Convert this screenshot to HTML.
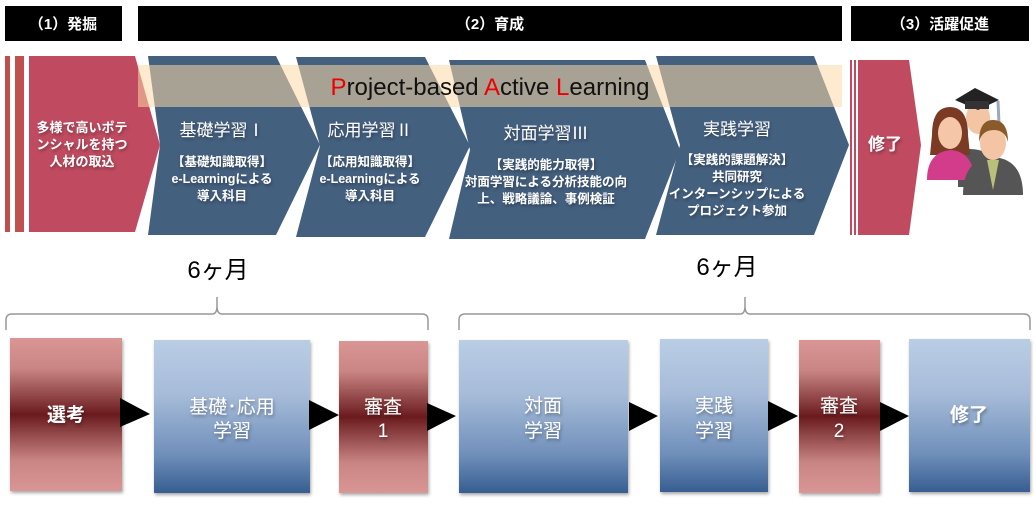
<!DOCTYPE html>
<html><head><meta charset="utf-8"><style>
html,body{margin:0;padding:0;background:#fff;}
svg{display:block;}
text{font-family:"Liberation Sans","Noto Sans CJK JP",sans-serif;}
</style></head><body>
<svg width="1035" height="510" viewBox="0 0 1035 510" xmlns="http://www.w3.org/2000/svg">
<defs>
<linearGradient id="pk" x1="0" y1="0" x2="0" y2="1">
<stop offset="0" stop-color="#d99694"/><stop offset="0.2" stop-color="#c98583"/><stop offset="0.5" stop-color="#6a1b1e"/><stop offset="0.8" stop-color="#c98583"/><stop offset="1" stop-color="#d99694"/></linearGradient>
<linearGradient id="bl" x1="0" y1="0" x2="0" y2="1">
<stop offset="0" stop-color="#b9cde5"/><stop offset="0.35" stop-color="#a7bcd9"/><stop offset="0.75" stop-color="#6f8fba"/><stop offset="1" stop-color="#375d91"/></linearGradient>
<filter id="sh" x="-10%" y="-10%" width="130%" height="130%"><feDropShadow dx="1" dy="2" stdDeviation="1.5" flood-opacity="0.35"/></filter>
</defs>
<!-- headers -->
<rect x="5" y="6" width="117" height="35" fill="#000"/>
<rect x="138" y="6" width="704" height="35" fill="#000"/>
<rect x="851" y="6" width="178" height="35" fill="#000"/>
<g fill="#fff" font-size="15" font-weight="bold" text-anchor="middle">
<text x="63" y="29">（1）発掘</text>
<text x="490" y="29">（2）育成</text>
<text x="940" y="29">（3）活躍促進</text>
</g>
<!-- left pink -->
<rect x="5" y="56" width="5" height="176" fill="#c0504d"/>
<rect x="15" y="56" width="9" height="176" fill="#c0504d"/>
<polygon points="29,56 135,56 160,145 135,232 29,232" fill="#c04b60"/>
<!-- blue chevrons -->
<polygon points="148,56 276,56 320,145 276,235 148,235 160,145" fill="#44607f"/>
<polygon points="296,57 425,57 470,146 425,237 296,237 320,146" fill="#44607f"/>
<polygon points="449,60 645,60 680,150 645,239 449,239 470,150" fill="#44607f"/>
<polygon points="656,56 814,56 849,145 814,235 656,235 680,145" fill="#44607f"/>
<!-- band -->
<rect x="138" y="65" width="704" height="42" fill="#fcd9a8" opacity="0.55"/>
<text x="490" y="95" font-size="24" text-anchor="middle" fill="#111"><tspan fill="#e00">P</tspan>roject-based <tspan fill="#e00">A</tspan>ctive <tspan fill="#e00">L</tspan>earning</text>
<!-- right pink -->
<rect x="850" y="60" width="2" height="175" fill="#c04b60"/>
<rect x="854" y="60" width="2" height="175" fill="#c04b60"/>
<polygon points="858,60 909,60 921,145 909,235 858,235" fill="#c04b60"/>
<g fill="#fff" font-weight="bold" text-anchor="middle" filter="url(#sh)">
<text x="82" y="132" font-size="13">多様で高いポテ</text>
<text x="82" y="149" font-size="13">ンシャルを持つ</text>
<text x="82" y="166" font-size="13">人材の取込</text>
<text x="885" y="150" font-size="17">修了</text>
</g>
<g fill="#fff" text-anchor="middle" filter="url(#sh)">
<text x="222" y="136" font-size="17">基礎学習Ⅰ</text>
<text x="222" y="166" font-size="12.5" font-weight="bold">【基礎知識取得】</text>
<text x="222" y="183" font-size="12.5" font-weight="bold">e-Learningによる</text>
<text x="222" y="200" font-size="12.5" font-weight="bold">導入科目</text>
<text x="370" y="136" font-size="17">応用学習Ⅱ</text>
<text x="370" y="166" font-size="12.5" font-weight="bold">【応用知識取得】</text>
<text x="370" y="183" font-size="12.5" font-weight="bold">e-Learningによる</text>
<text x="370" y="200" font-size="12.5" font-weight="bold">導入科目</text>
<text x="546" y="139" font-size="17">対面学習Ⅲ</text>
<text x="546" y="169" font-size="12.5" font-weight="bold">【実践的能力取得】</text>
<text x="546" y="186" font-size="12.5" font-weight="bold">対面学習による分析技能の向</text>
<text x="546" y="203" font-size="12.5" font-weight="bold">上、戦略議論、事例検証</text>
<text x="737" y="135" font-size="17">実践学習</text>
<text x="737" y="164" font-size="12.5" font-weight="bold">【実践的課題解決】</text>
<text x="737" y="181" font-size="12.5" font-weight="bold">共同研究</text>
<text x="737" y="198" font-size="12.5" font-weight="bold">インターンシップによる</text>
<text x="737" y="215" font-size="12.5" font-weight="bold">プロジェクト参加</text>
</g>
<!-- people icon -->
<g>
<path d="M958,150 q30,-5 40,15 l0,22 l-40,0 z" fill="#555"/>
<ellipse cx="978" cy="118" rx="12" ry="16" fill="#f3c5a4"/>
<polygon points="955,100 975,88 999,100 978,110" fill="#222"/>
<rect x="965" y="101" width="24" height="8" fill="#333"/>
<line x1="998" y1="101" x2="999" y2="124" stroke="#9ab" stroke-width="3"/>
<path d="M932,135 q0,-28 18,-28 q18,0 18,28 l2,20 l-40,0 z" fill="#7a3a24"/>
<ellipse cx="950" cy="133" rx="12" ry="16" fill="#f5c7a8"/>
<path d="M927,180 q0,-28 24,-30 q22,2 24,30 z" fill="#d23c8a"/>
<path d="M963,195 q0,-36 30,-38 q30,2 30,38 z" fill="#555"/>
<polygon points="987,160 999,160 993,190" fill="#b8c07a"/>
<ellipse cx="993" cy="143" rx="13" ry="17" fill="#f3c5a4"/>
<path d="M979,142 q0,-22 14,-22 q15,0 15,22 q-3,-12 -14,-12 q-12,0 -15,12 z" fill="#8a5a2a"/>
</g>
<!-- 6ヶ月 -->
<text x="218" y="278" font-size="24" text-anchor="middle" fill="#000">6ヶ月</text>
<text x="727" y="275" font-size="24" text-anchor="middle" fill="#000">6ヶ月</text>
<!-- braces -->
<path d="M6,330 L6,320 Q6,314 12,314 L212,314 Q217,314 217,306 L217,297 M217,306 Q217,314 222,314 L422,314 Q428,314 428,320 L428,330" fill="none" stroke="#999" stroke-width="1.5"/>
<path d="M459,330 L459,320 Q459,314 465,314 L740,314 Q745,314 745,306 L745,297 M745,306 Q745,314 750,314 L1024,314 Q1030,314 1030,320 L1030,330" fill="none" stroke="#999" stroke-width="1.5"/>
<!-- bottom boxes -->
<g filter="url(#sh)">
<rect x="10" y="338" width="112" height="153" fill="url(#pk)"/>
<rect x="154" y="340" width="156" height="153" fill="url(#bl)"/>
<rect x="339" y="341" width="89" height="152" fill="url(#pk)"/>
<rect x="459" y="340" width="169" height="153" fill="url(#bl)"/>
<rect x="660" y="339" width="108" height="153" fill="url(#bl)"/>
<rect x="799" y="340" width="81" height="153" fill="url(#pk)"/>
<rect x="909" y="339" width="121" height="153" fill="url(#bl)"/>
</g>
<g fill="#000">
<polygon points="120,398 150,414 120,427"/>
<polygon points="309,400 339,415 309,430"/>
<polygon points="427,403 456,416 427,431"/>
<polygon points="629,402 658,416 629,431"/>
<polygon points="768,401 798,416 768,431"/>
<polygon points="880,402 909,416 880,431"/>
</g>
<g fill="#fff" font-size="19" text-anchor="middle" filter="url(#sh)">
<text x="66" y="421" font-weight="bold">選考</text>
<text x="232" y="413">基礎･応用</text>
<text x="232" y="437">学習</text>
<text x="383" y="413">審査</text>
<text x="383" y="437">1</text>
<text x="543" y="412">対面</text>
<text x="543" y="437">学習</text>
<text x="714" y="412">実践</text>
<text x="714" y="437">学習</text>
<text x="839" y="412">審査</text>
<text x="839" y="437">2</text>
<text x="969" y="421" font-weight="bold">修了</text>
</g>
</svg>
</body></html>
